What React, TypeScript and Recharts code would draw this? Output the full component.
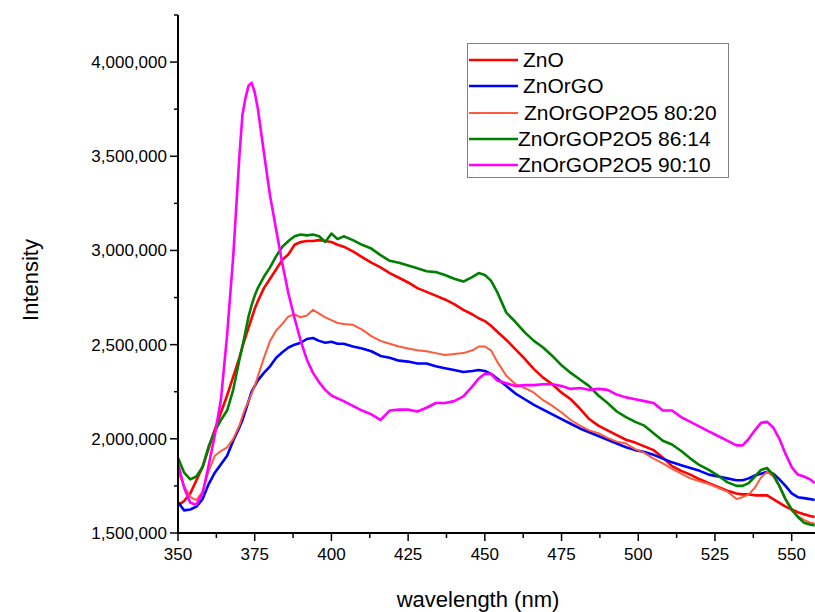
import React from 'react';
import { LineChart, Line, XAxis, YAxis } from 'recharts';

// wavelength (nm)
const wavelength = [
  350, 352, 354, 356, 358, 360, 362, 364, 366, 368, 370,
  371, 372, 373, 374, 375, 376,
  378, 380, 382, 384, 386, 388, 390, 392, 394, 396, 398, 400, 402, 404,
  407, 410, 413, 416, 419, 422, 425, 428, 431, 434, 437, 440, 443,
  446, 448, 450, 452, 454,
  457, 460, 463, 466, 469, 472, 475, 478, 481, 484, 487, 490, 493, 496, 499, 502, 505, 508, 511, 514, 517, 520, 523, 526, 529, 532,
  534, 536, 538, 540, 542, 544, 546, 548, 550, 552, 554, 556,
  557.5,
];

// intensities in millions
const zno = [
  1.645, 1.67, 1.71, 1.78, 1.85, 1.95, 2.05, 2.14, 2.23, 2.33, 2.43,
  2.49, 2.54, 2.59, 2.64, 2.69, 2.73,
  2.80, 2.85, 2.90, 2.95, 2.98, 3.03, 3.045, 3.05, 3.05, 3.055, 3.05, 3.045, 3.03, 3.02,
  2.995, 2.965, 2.935, 2.91, 2.88, 2.855, 2.83, 2.80, 2.78, 2.76, 2.74, 2.715, 2.685,
  2.66, 2.64, 2.625, 2.60, 2.57,
  2.525, 2.475, 2.425, 2.37, 2.325, 2.29, 2.245, 2.21, 2.16, 2.105, 2.07, 2.045, 2.02, 1.995, 1.98, 1.96, 1.94, 1.90, 1.855, 1.83, 1.81, 1.785, 1.765, 1.745, 1.725, 1.71,
  1.705, 1.705, 1.70, 1.70, 1.70, 1.68, 1.66, 1.64, 1.625, 1.61, 1.60, 1.59,
  1.585,
];

const znorgo = [
  1.665, 1.62, 1.625, 1.64, 1.68, 1.76, 1.82, 1.865, 1.91, 1.99, 2.06,
  2.10, 2.15, 2.20, 2.25, 2.28, 2.31,
  2.35, 2.385, 2.43, 2.46, 2.485, 2.50, 2.51, 2.53, 2.535, 2.52, 2.51, 2.515, 2.505, 2.505,
  2.49, 2.48, 2.465, 2.44, 2.43, 2.415, 2.41, 2.40, 2.40, 2.385, 2.375, 2.365, 2.355,
  2.36, 2.365, 2.36, 2.345, 2.32,
  2.28, 2.24, 2.21, 2.18, 2.155, 2.13, 2.105, 2.08, 2.055, 2.035, 2.015, 1.995, 1.975, 1.955, 1.94, 1.93, 1.915, 1.895, 1.875, 1.86, 1.845, 1.83, 1.81, 1.80, 1.79, 1.78,
  1.78, 1.79, 1.805, 1.815, 1.825, 1.815, 1.785, 1.75, 1.71, 1.69, 1.685, 1.68,
  1.675,
];

const p2o5_80_20 = [
  1.825, 1.75, 1.69, 1.675, 1.72, 1.83, 1.91, 1.935, 1.955, 2.00, 2.07,
  2.12, 2.165, 2.20, 2.24, 2.28, 2.33,
  2.43, 2.52, 2.575, 2.61, 2.65, 2.66, 2.645, 2.655, 2.685, 2.665, 2.645, 2.63, 2.615, 2.61,
  2.605, 2.58, 2.545, 2.52, 2.505, 2.49, 2.48, 2.47, 2.465, 2.455, 2.445, 2.45, 2.455,
  2.47, 2.49, 2.49, 2.47, 2.41,
  2.335, 2.29, 2.27, 2.245, 2.205, 2.175, 2.14, 2.10, 2.07, 2.045, 2.03, 2.005, 1.985, 1.975, 1.945, 1.925, 1.895, 1.87, 1.84, 1.815, 1.79, 1.775, 1.76, 1.74, 1.72, 1.68,
  1.69, 1.705, 1.74, 1.795, 1.825, 1.80, 1.745, 1.675, 1.62, 1.59, 1.57, 1.555,
  1.55,
];

const p2o5_86_14 = [
  1.90, 1.82, 1.785, 1.80, 1.85, 1.96, 2.04, 2.10, 2.15, 2.26, 2.42,
  2.49, 2.57, 2.65, 2.71, 2.76, 2.80,
  2.86, 2.91, 2.97, 3.02, 3.05, 3.075, 3.085, 3.08, 3.085, 3.075, 3.045, 3.09, 3.06, 3.075,
  3.055, 3.03, 3.01, 2.975, 2.945, 2.935, 2.92, 2.905, 2.89, 2.885, 2.87, 2.85, 2.835,
  2.86, 2.88, 2.87, 2.84, 2.78,
  2.67, 2.62, 2.565, 2.52, 2.485, 2.44, 2.39, 2.35, 2.315, 2.28, 2.23, 2.19, 2.145, 2.115, 2.09, 2.07, 2.03, 1.99, 1.97, 1.935, 1.895, 1.86, 1.835, 1.805, 1.77, 1.75,
  1.75, 1.765, 1.80, 1.835, 1.845, 1.81, 1.75, 1.68, 1.625, 1.585, 1.555, 1.545,
  1.54,
];

const p2o5_90_10 = [
  1.87, 1.74, 1.66, 1.65, 1.71, 1.86, 2.02, 2.21, 2.55, 2.97, 3.50,
  3.72, 3.81, 3.875, 3.89, 3.84, 3.755,
  3.52, 3.29, 3.11, 2.93, 2.77, 2.64, 2.52, 2.42, 2.35, 2.30, 2.26, 2.23, 2.215, 2.20,
  2.175, 2.15, 2.13, 2.10, 2.15, 2.155, 2.155, 2.145, 2.165, 2.19, 2.19, 2.20, 2.225,
  2.28, 2.32, 2.345, 2.345, 2.31,
  2.295, 2.28, 2.285, 2.285, 2.29, 2.29, 2.28, 2.265, 2.27, 2.26, 2.265, 2.26, 2.235, 2.22, 2.21, 2.20, 2.19, 2.15, 2.15, 2.115, 2.09, 2.065, 2.04, 2.015, 1.99, 1.965,
  1.965, 2.0, 2.045, 2.085, 2.09, 2.06, 2.00, 1.92, 1.85, 1.81, 1.80, 1.785,
  1.765,
];

const seriesNames = ['ZnO', 'ZnOrGO', 'ZnOrGOP2O5 80:20', 'ZnOrGOP2O5 86:14', 'ZnOrGOP2O5 90:10'];
const seriesValues = [zno, znorgo, p2o5_80_20, p2o5_86_14, p2o5_90_10];
const seriesKeys = ['zno', 'znorgo', 'p80', 'p86', 'p90'];
const seriesColors = ['#FF0000', '#0000FF', '#FF5A3C', '#008000', '#FF00FF'];
const seriesWidths = [2.6, 2.6, 2, 2.6, 2.6];
const legendTextGap = [5, 5, 6, 0, 0];

const xTicks = [350, 362.5, 375, 387.5, 400, 412.5, 425, 437.5, 450, 462.5, 475, 487.5, 500, 512.5, 525, 537.5, 550];
const yTicks = [1500000, 1750000, 2000000, 2250000, 2500000, 2750000, 3000000, 3250000, 3500000, 3750000, 4000000, 4250000];

const MILLION = 1000000;
const rows = wavelength.map((wl, i) => {
  const r: Record<string, number> = { wl };
  seriesKeys.forEach((k, s) => {
    r[k] = seriesValues[s][i] * MILLION;
  });
  return r;
});

const FONT = '"Liberation Sans", Arial, sans-serif';

const YTick = (props: any) => {
  const { x, y, payload } = props;
  const major = payload.value % 500000 === 0;
  return (
    <g>
      <line x1={x - (major ? 8 : 4)} x2={x} y1={y} y2={y} stroke="#000" strokeWidth={1.5} />
      {major && (
        <text x={x - 11} y={y} dy={6} textAnchor="end" fontSize={17} fontFamily={FONT} fill="#000">
          {payload.value.toLocaleString('en-US')}
        </text>
      )}
    </g>
  );
};

const XTick = (props: any) => {
  const { x, y, payload } = props;
  const major = payload.value % 25 === 0;
  return (
    <g>
      <line x1={x} x2={x} y1={y} y2={y + (major ? 8 : 5)} stroke="#000" strokeWidth={1.5} />
      {major && (
        <text x={x} y={y + 27} textAnchor="middle" fontSize={17} fontFamily={FONT} fill="#000">
          {payload.value}
        </text>
      )}
    </g>
  );
};

const YTitle = (props: any) => {
  const vb = props.viewBox;
  const cx = vb.x + 30;
  const cy = vb.y + vb.height / 2 + 6;
  return (
    <text x={cx} y={cy} transform={`rotate(-90 ${cx} ${cy})`} textAnchor="middle" dominantBaseline="central" fontSize={22} fontFamily={FONT} fill="#000">
      Intensity
    </text>
  );
};

const XTitle = (props: any) => {
  const vb = props.viewBox;
  return (
    <text x={vb.x + 300} y={vb.y + 74} textAnchor="middle" fontSize={22} fontFamily={FONT} fill="#000">
      wavelength (nm)
    </text>
  );
};

const LegendBox = () => (
  <div
    style={{
      position: 'absolute',
      left: 467,
      top: 43,
      width: 262,
      height: 135,
      boxSizing: 'border-box',
      border: '1px solid #808080',
      background: '#fff',
      paddingTop: 3,
      fontFamily: FONT,
      fontSize: 21,
      color: '#000',
    }}
  >
    {seriesNames.map((name, i) => (
      <div key={name} style={{ display: 'flex', alignItems: 'center', height: 26.3, whiteSpace: 'nowrap' }}>
        <svg width={50} height={10} style={{ flex: 'none' }}>
          <line x1={1} x2={50} y1={5} y2={5} stroke={seriesColors[i]} strokeWidth={seriesWidths[i]} />
        </svg>
        <span style={{ marginLeft: legendTextGap[i], lineHeight: '26px' }}>{name}</span>
      </div>
    ))}
  </div>
);

export default function App() {
  return (
    <div style={{ position: 'absolute', left: 0, top: 0, width: 815, height: 612, background: '#fff' }}>
      <LineChart width={815} height={612} data={rows} margin={{ top: 15, right: 0, bottom: 0, left: 0 }}>
        <XAxis
          dataKey="wl"
          type="number"
          domain={[350, 557.6]}
          allowDataOverflow
          ticks={xTicks}
          interval={0}
          height={79}
          tickSize={0}
          tickMargin={0}
          tickLine={false}
          tick={<XTick />}
          axisLine={{ stroke: '#000', strokeWidth: 2 }}
          label={<XTitle />}
        />
        <YAxis
          type="number"
          domain={[1500000, 4250000]}
          allowDataOverflow
          ticks={yTicks}
          interval={0}
          width={178}
          tickSize={0}
          tickMargin={0}
          tickLine={false}
          tick={<YTick />}
          axisLine={{ stroke: '#000', strokeWidth: 2 }}
          label={<YTitle />}
        />
        {seriesKeys.map((k, i) => (
          <Line
            key={k}
            dataKey={k}
            name={seriesNames[i]}
            type="linear"
            stroke={seriesColors[i]}
            strokeWidth={seriesWidths[i]}
            dot={false}
            activeDot={false}
            isAnimationActive={false}
            strokeLinejoin="round"
          />
        ))}
      </LineChart>
      <LegendBox />
    </div>
  );
}
